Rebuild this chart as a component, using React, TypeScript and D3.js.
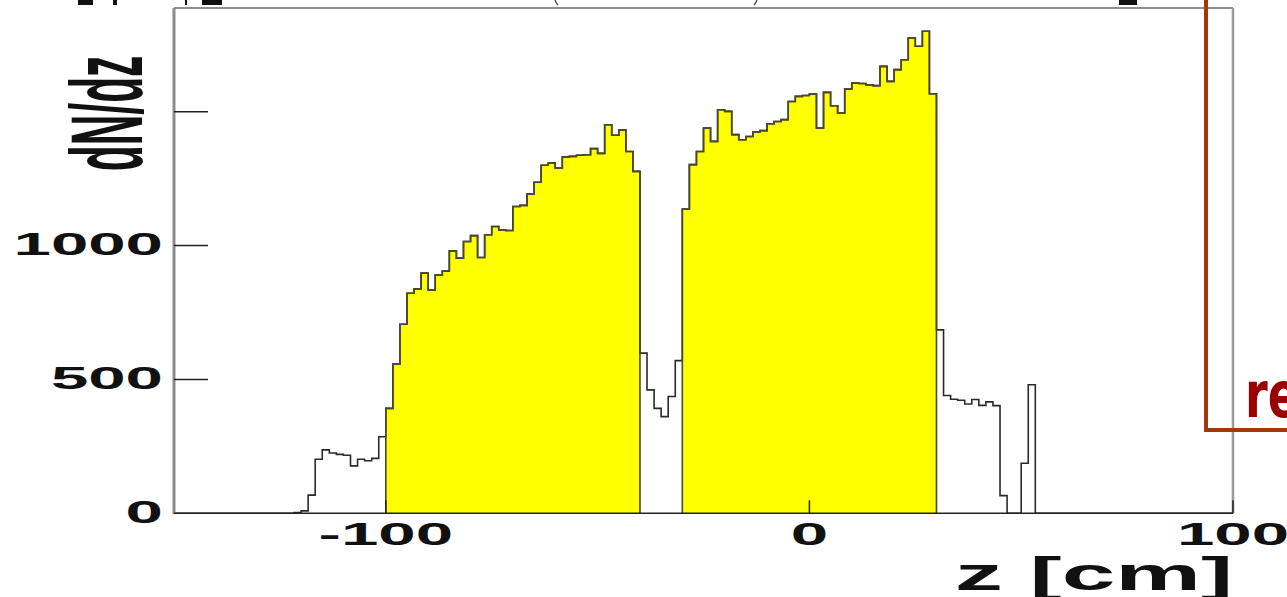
import React from 'react';
import * as d3 from 'd3';

// Histogram binning along z
const Z_MIN = -150;
const Z_MAX = 100;
const N_BINS = 150;

// dN/dz per bin (bin width 5/3 cm, from z = -150 to 100)
const counts: number[] = [
  0, 0, 0, 0, 0, 0, 0, 0, 0, 0, 0, 0, 0, 0, 0, 0, 0,
  3, 9, 68, 202, 237, 225, 220, 217, 177, 202, 196, 205, 286,
  392, 557, 706, 822, 838, 897, 834, 890, 905, 980, 953, 1015, 1037, 955, 1040,
  1071, 1058, 1056, 1146, 1150, 1193, 1236, 1300, 1308, 1289, 1331, 1333, 1337,
  1339, 1362, 1344, 1451, 1412, 1432, 1351, 1277,
  598, 461, 392, 361, 436, 570,
  1136, 1302, 1351, 1439, 1389, 1507, 1501, 1414, 1395, 1407, 1424, 1429, 1455,
  1463, 1470, 1538, 1557, 1560, 1566, 1439, 1572, 1522, 1495, 1584, 1607, 1605,
  1600, 1597, 1669, 1613, 1657, 1694, 1775, 1744, 1800, 1567,
  685, 440, 426, 422, 408, 425, 403, 416, 402, 66, 0, 0, 187, 480,
  0, 0, 0, 0, 0, 0, 0, 0, 0, 0, 0, 0, 0, 0, 0, 0, 0, 0, 0, 0, 0, 0, 0, 0, 0, 0, 0, 0,
];

// Selected z windows (filled)
const selectedRanges: [number, number][] = [
  [-100, -40],
  [-30, 30],
];

const xTicks = [-100, 0, 100];
const xTickLabels = ['-100', '0', '100'];
const yTicks = [0, 500, 1000, 1500];
const yTickLabels = ['0', '500', '1000', ''];

const xTitle = 'z [cm]';
const yTitle = 'dN/dz';
const sideLabel = 're';

const W = 1287;
const H = 597;
const PLOT = { left: 174, right: 1233, top: 8, bottom: 513.3 };
const Y_MAX = 1887;

const FONT = '"Liberation Sans", Arial, Helvetica, sans-serif';

export default function App() {
  const x = d3.scaleLinear().domain([Z_MIN, Z_MAX]).range([PLOT.left, PLOT.right]);
  const y = d3.scaleLinear().domain([0, Y_MAX]).range([PLOT.bottom, PLOT.top]);
  const binW = (Z_MAX - Z_MIN) / N_BINS;

  type Pt = { z: number; v: number };
  const allPts: Pt[] = counts.map((v, i) => ({ z: Z_MIN + i * binW, v }));
  allPts.push({ z: Z_MAX, v: counts[counts.length - 1] });

  const stepLine = d3
    .line<Pt>()
    .x((d) => x(d.z))
    .y((d) => y(d.v))
    .curve(d3.curveStepAfter);

  const stepArea = d3
    .area<Pt>()
    .x((d) => x(d.z))
    .y0(y(0))
    .y1((d) => y(d.v))
    .curve(d3.curveStepAfter);

  const eps = 1e-6;
  const selectedPaths = selectedRanges.map(([lo, hi]) => {
    const pts: Pt[] = [];
    counts.forEach((v, i) => {
      const z0 = Z_MIN + i * binW;
      if (z0 >= lo - eps && z0 + binW <= hi + eps) pts.push({ z: z0, v });
    });
    const last = pts[pts.length - 1];
    pts.push({ z: hi, v: last.v });
    const inner = pts.map((p) => [x(p.z), y(p.v)] as [number, number]);
    // closed outline: down to the axis at both ends
    const outline =
      `M${x(lo)},${y(0)}` +
      (stepLine(pts) || '').replace(/^M/, 'L') +
      `L${x(hi)},${y(0)}`;
    return { area: stepArea(pts) || '', outline, inner };
  });

  const sx = 2.1;

  return (
    <svg
      width={W}
      height={H}
      style={{ position: 'absolute', left: 0, top: 0, background: '#fff', overflow: 'hidden' }}
    >
      {/* fragments of the clipped heading line */}
      <g fill="#111">
        <rect x={78} y={0} width={15} height={5} />
        <rect x={113} y={0} width={4} height={5} />
        <rect x={185} y={0} width={2} height={5} />
        <rect x={202} y={0} width={20} height={5} />
        <rect x={1119} y={0} width={18} height={5} />
      </g>
      <g stroke="#333" strokeWidth={1.2} fill="none">
        <path d="M555,0 Q556,3 558,5" />
        <path d="M757,0 Q756,3 754,5" />
      </g>

      {/* filled windows */}
      {selectedPaths.map((p, i) => (
        <path key={`a${i}`} d={p.area} fill="#ffff00" stroke="none" />
      ))}

      {/* full distribution */}
      <path d={stepLine(allPts) || ''} fill="none" stroke="#2a2a2a" strokeWidth={1.6} />

      {/* window outlines */}
      {selectedPaths.map((p, i) => (
        <path key={`o${i}`} d={p.outline} fill="none" stroke="#4a4a2a" strokeWidth={1.6} />
      ))}

      {/* frame */}
      <line x1={PLOT.left} x2={PLOT.right} y1={PLOT.top} y2={PLOT.top} stroke="#6a6a6a" strokeWidth={1.6} />
      <line x1={PLOT.right} x2={PLOT.right} y1={PLOT.top} y2={PLOT.bottom} stroke="#9a9a9a" strokeWidth={2.5} />
      <line x1={PLOT.left} x2={PLOT.left} y1={PLOT.top} y2={PLOT.bottom + 1} stroke="#8c8c8c" strokeWidth={3} />
      <line x1={PLOT.left} x2={PLOT.right} y1={PLOT.bottom} y2={PLOT.bottom} stroke="#222" strokeWidth={1.6} />

      {/* y axis ticks and labels */}
      {yTicks.map((t, i) => (
        <g key={`yt${t}`}>
          {t > 0 && (
            <line x1={PLOT.left} x2={PLOT.left + 34} y1={y(t)} y2={y(t)} stroke="#222" strokeWidth={1.5} />
          )}
          {yTickLabels[i] && (
            <text
              transform={`translate(163,${y(t) + 9.5}) scale(${sx},1)`}
              textAnchor="end"
              fontFamily={FONT}
              fontWeight="bold"
              fontSize={32}
              fill="#111"
            >
              {yTickLabels[i]}
            </text>
          )}
        </g>
      ))}

      {/* x axis ticks and labels */}
      {xTicks.map((t, i) => (
        <g key={`xt${t}`}>
          <line x1={x(t)} x2={x(t)} y1={PLOT.bottom} y2={PLOT.bottom - 13} stroke="#222" strokeWidth={1.5} />
          <text
            transform={`translate(${x(t)},545) scale(${sx},1)`}
            textAnchor="middle"
            fontFamily={FONT}
            fontWeight="bold"
            fontSize={32}
            fill="#111"
          >
            {xTickLabels[i]}
          </text>
        </g>
      ))}

      {/* axis titles */}
      <text
        transform={`translate(${PLOT.right},590) scale(2.05,1)`}
        textAnchor="end"
        fontFamily={FONT}
        fontWeight="bold"
        fontSize={47}
        fill="#111"
      >
        {xTitle}
      </text>
      <text
        transform="translate(142,113.5) scale(2.4,1) rotate(-90)"
        textAnchor="middle"
        fontFamily={FONT}
        fontWeight="bold"
        fontSize={42.5}
        fill="#111"
      >
        {yTitle}
      </text>

      {/* side annotation box */}
      <g stroke="#a3380f" strokeWidth={4} fill="none">
        <line x1={1206} x2={1206} y1={0} y2={432} />
        <line x1={1204} x2={W + 5} y1={430} y2={430} />
      </g>
      <text
        transform="translate(1245,417) scale(0.72,1)"
        fontFamily='"DejaVu Sans", sans-serif'
        fontWeight="bold"
        fontSize={64}
        fill="#9a0000"
      >
        {sideLabel}
      </text>
    </svg>
  );
}
